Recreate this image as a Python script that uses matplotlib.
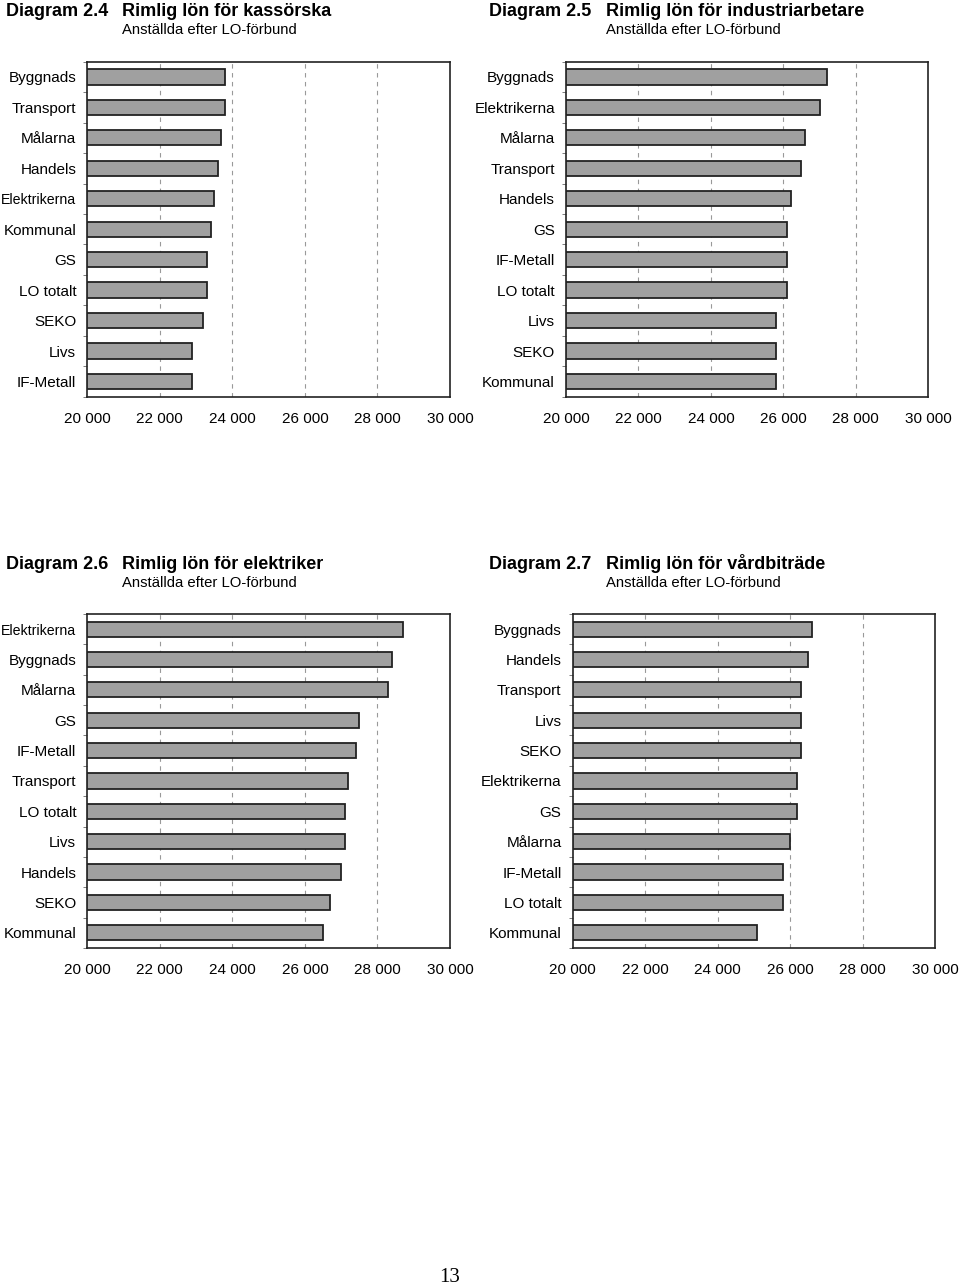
import matplotlib
matplotlib.use("Agg")
import matplotlib.pyplot as plt
import numpy as np

plt.rcParams['font.family'] = ['Liberation Sans', 'DejaVu Sans']

# ---- data ----
cats_24 = ["Byggnads", "Transport", "Målarna", "Handels", "Elektrikerna", "Kommunal",
           "GS", "LO totalt", "SEKO", "Livs", "IF-Metall"]
vals_24 = [23800, 23800, 23700, 23600, 23500, 23400, 23300, 23300, 23200, 22900, 22900]

cats_25 = ["Byggnads", "Elektrikerna", "Målarna", "Transport", "Handels", "GS",
           "IF-Metall", "LO totalt", "Livs", "SEKO", "Kommunal"]
vals_25 = [27200, 27000, 26600, 26500, 26200, 26100, 26100, 26100, 25800, 25800, 25800]

cats_26 = ["Elektrikerna", "Byggnads", "Målarna", "GS", "IF-Metall", "Transport",
           "LO totalt", "Livs", "Handels", "SEKO", "Kommunal"]
vals_26 = [28700, 28400, 28300, 27500, 27400, 27200, 27100, 27100, 27000, 26700, 26500]

cats_27 = ["Byggnads", "Handels", "Transport", "Livs", "SEKO", "Elektrikerna",
           "GS", "Målarna", "IF-Metall", "LO totalt", "Kommunal"]
vals_27 = [26600, 26500, 26300, 26300, 26300, 26200, 26200, 26000, 25800, 25800, 25100]

xticks = [20000, 22000, 24000, 26000, 28000, 30000]
xticklabels = ["20 000", "22 000", "24 000", "26 000", "28 000", "30 000"]

titles = [("Diagram 2.4", "Rimlig lön för kassörska"),
          ("Diagram 2.5", "Rimlig lön för industriarbetare"),
          ("Diagram 2.6", "Rimlig lön för elektriker"),
          ("Diagram 2.7", "Rimlig lön för vårdbiträde")]
subtitle = "Anställda efter LO-förbund"

W, H = 960, 1288
fig = plt.figure(figsize=(9.6, 12.88), dpi=100)

# axes boxes in pixels: (left, top, right, bottom)
boxes = [(87.3, 61.7, 450, 396.7),
         (566, 61.7, 928.3, 396.7),
         (87.3, 614, 450, 948),
         (572.7, 614, 935, 948)]
# (x of "Diagram", x of title, title baseline, subtitle baseline)
title_pos = [(6, 122, 16.5, 34.5), (489, 606, 16.5, 34.5),
             (6, 122, 569, 587), (489, 606, 569, 587)]
datasets = [(cats_24, vals_24), (cats_25, vals_25), (cats_26, vals_26), (cats_27, vals_27)]

for (l, t, r, b), (cats, vals), (x1, x2, ty, sy), (d, ttl) in zip(boxes, datasets, title_pos, titles):
    ax = fig.add_axes([l / W, 1 - b / H, (r - l) / W, (b - t) / H])
    y = np.arange(len(cats))
    ax.barh(y, [v - 20000 for v in vals], left=20000, height=0.5,
            color="#a0a0a0", edgecolor="#222222", linewidth=1.3, zorder=3)
    ax.set_xlim(20000, 30000)
    ax.set_ylim(len(cats) - 0.5, -0.5)
    ax.set_xticks(xticks)
    ax.set_xticklabels(xticklabels, fontsize=11)
    ax.set_yticks(y)
    ax.set_yticklabels(cats, fontsize=11)
    for lab in ax.get_yticklabels():
        if lab.get_text() == "Elektrikerna" and l < 100:
            lab.set_fontsize(10.2)
    ax.set_yticks(np.arange(len(cats) + 1) - 0.5, minor=True)
    ax.tick_params(axis='y', which='major', length=0, pad=8)
    ax.tick_params(axis='y', which='minor', length=3, direction='out', color="#666666")
    ax.tick_params(axis='x', which='major', length=0, pad=11)
    for g in xticks[1:-1]:
        ax.axvline(g, color="#999999", linewidth=0.8, linestyle=(0, (4, 4)), zorder=1)
    for s in ax.spines.values():
        s.set_linewidth(1.2)
        s.set_color("#222222")
    fig.text(x1 / W, 1 - ty / H, d, fontsize=13, fontweight='bold', va='baseline', ha='left')
    fig.text(x2 / W, 1 - ty / H, ttl, fontsize=13, fontweight='bold', va='baseline', ha='left')
    fig.text(x2 / W, 1 - sy / H, subtitle, fontsize=10.7, va='baseline', ha='left')

fig.text(450 / W, 1 - 1277 / H, "13", fontsize=15, family=['Liberation Serif'],
         va='center', ha='center')

fig.savefig("out.png", dpi=100, facecolor="white")
